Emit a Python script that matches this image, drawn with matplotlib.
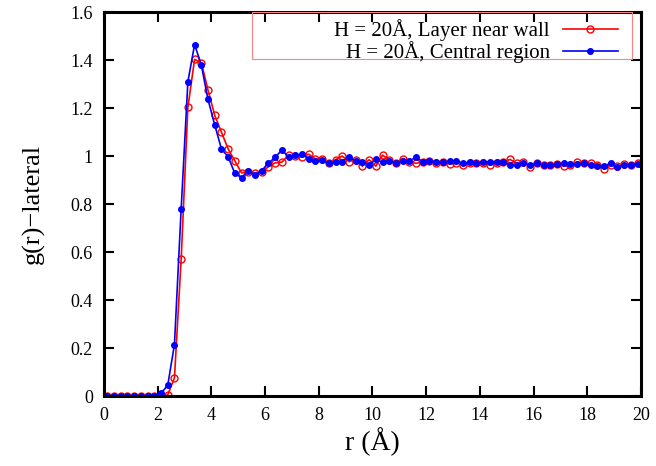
import matplotlib
matplotlib.use("Agg")
import matplotlib.pyplot as plt
from matplotlib.patches import Rectangle
import numpy as np

plt.rcParams['font.family'] = ['Liberation Serif', 'DejaVu Serif']

# bin centres, 0.25 A spacing
r = 0.125 + 0.25 * np.arange(80)

# H = 20A, layer near wall
g_wall = [0, 0, 0, 0, 0, 0, 0, 0, 0.0, 0.005,
          0.076, 0.57, 1.203, 1.403, 1.39, 1.275, 1.17, 1.10, 1.03, 0.98,
          0.93, 0.935, 0.93, 0.935, 0.955, 0.972, 0.975, 1.004, 1.0, 0.996,
          1.008, 0.988, 0.99, 0.97, 0.985, 1.0, 0.977, 0.985, 0.958, 0.985,
          0.958, 1.004, 0.985, 0.97, 0.99, 0.976, 0.97, 0.976, 0.98, 0.97,
          0.976, 0.967, 0.973, 0.963, 0.973, 0.973, 0.97, 0.963, 0.97, 0.975,
          0.986, 0.97, 0.976, 0.955, 0.973, 0.962, 0.962, 0.966, 0.958, 0.962,
          0.976, 0.97, 0.97, 0.962, 0.948, 0.962, 0.958, 0.967, 0.962, 0.97]

# H = 20A, central region
g_central = [0, 0, 0, 0, 0, 0, 0, 0, 0.012, 0.045,
             0.215, 0.78, 1.31, 1.465, 1.38, 1.236, 1.13, 1.03, 0.997, 0.928,
             0.91, 0.94, 0.92, 0.94, 0.97, 0.995, 1.025, 0.997, 1.003, 1.008,
             0.99, 0.98, 0.983, 0.97, 0.975, 0.977, 0.995, 0.98, 0.975, 0.964,
             0.986, 0.974, 0.98, 0.97, 0.98, 0.98, 0.995, 0.976, 0.98, 0.977,
             0.974, 0.979, 0.98, 0.97, 0.974, 0.97, 0.974, 0.977, 0.977, 0.977,
             0.962, 0.962, 0.97, 0.962, 0.97, 0.962, 0.962, 0.966, 0.97, 0.966,
             0.966, 0.97, 0.962, 0.958, 0.958, 0.97, 0.955, 0.962, 0.962, 0.966]

fig = plt.figure(figsize=(6.56, 4.66), dpi=100)
ax = fig.add_axes([0.1585, 0.150, 0.8185, 0.824])

ax.plot(r, g_wall, color='#ff0000', lw=1.2, marker='o', ms=5, mfc='none',
        mec='#ff0000', mew=1.0, label='H = 20Å, Layer near wall')
ax.plot(r, g_central, color='#0000ff', lw=1.2, marker='o', ms=4,
        mfc='#0000ff', mec='#0000ff', label='H = 20Å, Central region')

ax.set_xlim(0, 20)
ax.set_ylim(0, 1.6)
ax.set_xticks(np.arange(0, 21, 2))
ax.set_yticks(np.arange(0, 1.61, 0.2))
ax.yaxis.set_major_formatter(matplotlib.ticker.FuncFormatter(lambda v, p: '%g' % round(v, 1)))
ax.tick_params(direction='in', length=7, width=1.5, labelsize=13,
               top=True, right=True, pad=8)
for s in ax.spines.values():
    s.set_linewidth(2.2)

ax.set_xlabel('r (Å)', fontsize=20, labelpad=2)
ax.set_ylabel('g(r)\u2212lateral', fontsize=19, labelpad=18)

# key box (gnuplot style, wider than the text)
ax.add_patch(Rectangle((0.2756, 0.8776), 0.7074, 0.1224, transform=ax.transAxes,
                       fill=False, edgecolor='#ff8080', lw=0.8, zorder=5))
leg = ax.legend(loc='upper right', bbox_to_anchor=(0.957, 0.982), fontsize=15,
                markerfirst=False, frameon=False, borderaxespad=0,
                handlelength=2.64, labelspacing=0.0, borderpad=0,
                handletextpad=0.62)
for t in leg.get_texts():
    t.set_ha('right')

fig.savefig('out.png', dpi=100)
